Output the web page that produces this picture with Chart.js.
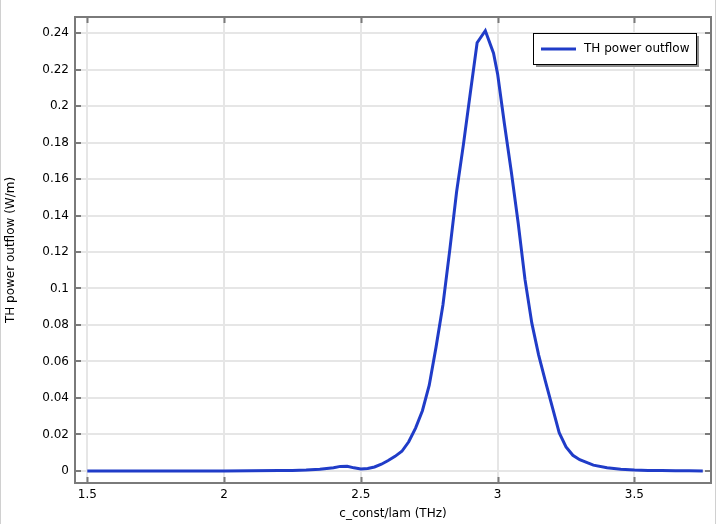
<!DOCTYPE html>
<html>
<head>
<meta charset="utf-8">
<script src="https://cdn.jsdelivr.net/npm/chart.js@4.4.1/dist/chart.umd.min.js"></script>
<style>
  html, body { margin: 0; padding: 0; background: #fff; }
  #wrap { width: 719px; height: 524px; }
</style>
</head>
<body>
<div id="wrap"><canvas id="powerChart" width="719" height="524"></canvas></div>
<script>
// Data
const freq = [1.5, 1.6, 1.7, 1.8, 1.9, 2.0, 2.1, 2.2, 2.25, 2.3, 2.35, 2.4, 2.425, 2.45, 2.475,
  2.5, 2.525, 2.55, 2.575, 2.6, 2.625, 2.65, 2.675, 2.7, 2.725, 2.75, 2.775, 2.8, 2.825, 2.85,
  2.875, 2.9, 2.925, 2.955, 2.985, 3.0, 3.025, 3.05, 3.075, 3.1, 3.125, 3.15, 3.175, 3.2, 3.225,
  3.25, 3.275, 3.3, 3.35, 3.4, 3.45, 3.5, 3.55, 3.6, 3.65, 3.7, 3.75];
const power = [0, 0, 0, 0, 0, 0, 0.0001, 0.0002, 0.0003, 0.0005, 0.0009, 0.0018, 0.0025, 0.0026, 0.0017,
  0.0011, 0.0014, 0.0022, 0.0037, 0.0057, 0.0080, 0.0108, 0.0160, 0.0235, 0.0330, 0.0470, 0.0680, 0.0910, 0.1210, 0.1530,
  0.1790, 0.2070, 0.2347, 0.2413, 0.2290, 0.2175, 0.1900, 0.1640, 0.1360, 0.1050, 0.0810, 0.0635, 0.0490, 0.0350, 0.0210,
  0.0132, 0.0086, 0.0062, 0.0032, 0.0018, 0.0010, 0.0005, 0.0003, 0.0002, 0.0001, 0.0001, 0];
const xTicks = [1.5, 2, 2.5, 3, 3.5];
const yTicks = [0, 0.02, 0.04, 0.06, 0.08, 0.1, 0.12, 0.14, 0.16, 0.18, 0.2, 0.22, 0.24];

const lineColor = 'rgb(32, 60, 200)';
const fontFam = '"DejaVu Sans", sans-serif';

// white background + frame edges
const framePlugin = {
  id: 'frame',
  beforeDraw(chart) {
    const c = chart.ctx;
    c.save();
    c.fillStyle = '#fff';
    c.fillRect(0, 0, chart.width, chart.height);
    c.strokeStyle = '#d0d0d0';
    c.lineWidth = 1;
    c.beginPath();
    c.moveTo(0.5, 0); c.lineTo(0.5, chart.height);
    c.moveTo(715.5, 0); c.lineTo(715.5, chart.height);
    c.stroke();
    c.restore();
  }
};

// box around plot, inward ticks, legend with shadow
const boxPlugin = {
  id: 'box',
  afterDraw(chart) {
    const c = chart.ctx;
    const a = chart.chartArea;
    const xs = chart.scales.x, ys = chart.scales.y;
    c.save();
    c.strokeStyle = '#7a7a7a';
    c.lineWidth = 2;
    c.strokeRect(a.left, a.top, a.right - a.left, a.bottom - a.top);
    c.beginPath();
    xTicks.forEach(v => {
      const px = Math.round(xs.getPixelForValue(v)) + 0.5;
      c.moveTo(px, a.top); c.lineTo(px, a.top + 6);
      c.moveTo(px, a.bottom); c.lineTo(px, a.bottom - 6);
    });
    yTicks.forEach(v => {
      const py = Math.round(ys.getPixelForValue(v));
      c.moveTo(a.left, py); c.lineTo(a.left + 6, py);
      c.moveTo(a.right, py); c.lineTo(a.right - 6, py);
    });
    c.stroke();

    // legend
    const ds = chart.data.datasets[0];
    const lx = 533, ly = 33, lw = 163, lh = 31;
    c.fillStyle = '#8c8c8c';
    c.fillRect(lx + 3, ly + 3, lw, lh);
    c.fillStyle = '#fff';
    c.fillRect(lx, ly, lw, lh);
    c.strokeStyle = '#000';
    c.lineWidth = 1;
    c.strokeRect(lx + 0.5, ly + 0.5, lw, lh);
    c.strokeStyle = ds.borderColor;
    c.lineWidth = 3;
    c.beginPath();
    c.moveTo(lx + 8, ly + 16); c.lineTo(lx + 43, ly + 16);
    c.stroke();
    c.fillStyle = '#000';
    c.font = '12px ' + fontFam;
    c.textBaseline = 'middle';
    c.fillText(ds.label, lx + 51, ly + 16);
    c.restore();
  }
};

const config = {
  type: 'line',
  data: {
    datasets: [{
      label: 'TH power outflow',
      data: freq.map((f, i) => ({ x: f, y: power[i] })),
      borderColor: lineColor,
      borderWidth: 3,
      pointRadius: 0,
      tension: 0,
      fill: false,
    }]
  },
  options: {
    responsive: false,
    animation: false,
    layout: { padding: { top: 17, right: 8, left: 4, bottom: 0 } },
    plugins: {
      legend: { display: false },
      tooltip: { enabled: false },
    },
    scales: {
      x: {
        type: 'linear',
        min: 1.455,
        max: 3.78,
        afterBuildTicks: s => { s.ticks = xTicks.map(v => ({ value: v })); },
        afterFit: s => { s.height = 41; },
        ticks: {
          color: '#000',
          font: { family: fontFam, size: 12 },
          padding: 5,
          maxRotation: 0,
          callback: v => String(v),
        },
        grid: { color: '#e6e6e6', lineWidth: 2, drawTicks: false },
        border: { display: false },
        title: {
          display: true,
          text: 'c_const/lam (THz)',
          color: '#000',
          font: { family: fontFam, size: 12 },
          padding: { top: 1, bottom: 3 },
        },
      },
      y: {
        min: -0.0066,
        max: 0.2488,
        afterBuildTicks: s => { s.ticks = yTicks.map(v => ({ value: v })); },
        afterFit: s => { s.width = 71; },
        ticks: {
          color: '#000',
          font: { family: fontFam, size: 12 },
          padding: 6,
          callback: v => String(+v.toFixed(4)),
        },
        grid: { color: '#e6e6e6', lineWidth: 2, drawTicks: false },
        border: { display: false },
        title: {
          display: true,
          text: 'TH power outflow (W/m)',
          color: '#000',
          font: { family: fontFam, size: 12 },
          padding: { top: 0, bottom: 4 },
        },
      },
    },
  },
  plugins: [framePlugin, boxPlugin],
};

const ctx = document.getElementById('powerChart').getContext('2d');
new Chart(ctx, config);
</script>
</body>
</html>
